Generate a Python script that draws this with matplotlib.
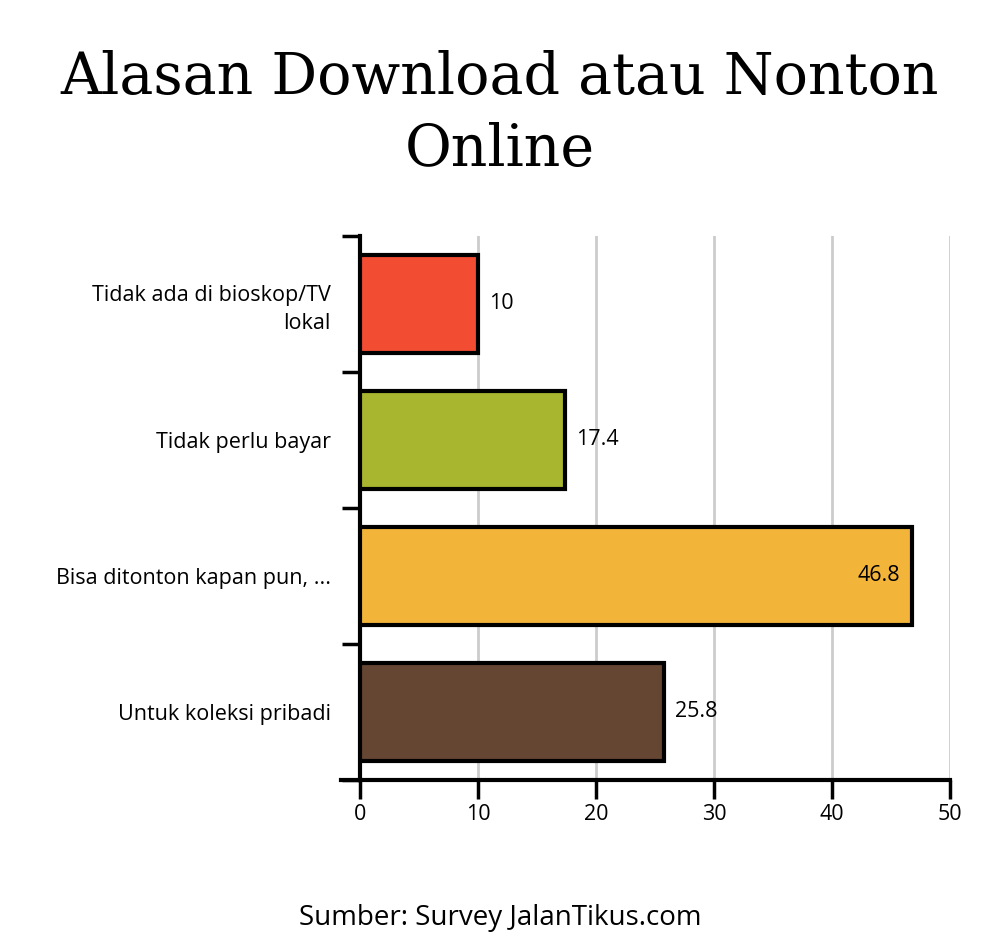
import matplotlib.pyplot as plt
import numpy as np

categories = [
    "Tidak ada di bioskop/TV\nlokal",
    "Tidak perlu bayar",
    "Bisa ditonton kapan pun, ...",
    "Untuk koleksi pribadi",
]
values = [10, 17.4, 46.8, 25.8]
colors = ["#F24C33", "#A8B52E", "#F2B53A", "#654632"]
x_ticks = [0, 10, 20, 30, 40, 50]

plt.rcParams["font.family"] = ["Open Sans", "DejaVu Sans"]

fig = plt.figure(figsize=(10, 9.5), dpi=100)
ax = fig.add_axes([0.36, 0.179, 0.59, 0.5726])

y = np.arange(len(categories))
ax.barh(y, values, height=0.72, color=colors, edgecolor="black", linewidth=3, zorder=3)

for yi, v in zip(y, values):
    if v > 40:
        ax.text(v - 1, yi, f"{v:g}", va="center", ha="right", fontsize=15.5, zorder=4)
    else:
        ax.text(v + 0.9, yi, f"{v:g}", va="center", ha="left", fontsize=15.5, zorder=4)

ax.set_xlim(0, 50)
ax.set_ylim(len(categories) - 0.5, -0.5)
ax.set_xticks(x_ticks)
ax.set_xticklabels([str(t) for t in x_ticks], fontsize=15.5)

# category labels at centers, tick marks at band boundaries
ax.set_yticks(y)
ax.set_yticklabels(categories, fontsize=15.5, ha="right", linespacing=1.4)
ax.tick_params(axis="y", length=0, pad=21)
ax.set_yticks(np.arange(-0.5, len(categories), 1), minor=True)
ax.tick_params(axis="y", which="minor", length=13, width=2.5, color="black")
ax.tick_params(axis="x", length=14, width=2.5, color="black", pad=3)

ax.grid(axis="x", color="#cccccc", linewidth=2, zorder=0)
for s in ["top", "right"]:
    ax.spines[s].set_visible(False)
for s in ["left", "bottom"]:
    ax.spines[s].set_linewidth(3)

# extend bottom axis line left like the reference
ax.plot([-1.6, 0], [3.5, 3.5], color="black", linewidth=3, clip_on=False, zorder=5)

fig.text(0.5, 0.88, "Alasan Download atau Nonton\nOnline", ha="center", va="center",
         fontsize=41, family="DejaVu Serif", linespacing=1.35)
fig.text(0.5, 0.034, "Sumber: Survey JalanTikus.com", ha="center", va="center", fontsize=20)

fig.savefig("out.png", dpi=100)
